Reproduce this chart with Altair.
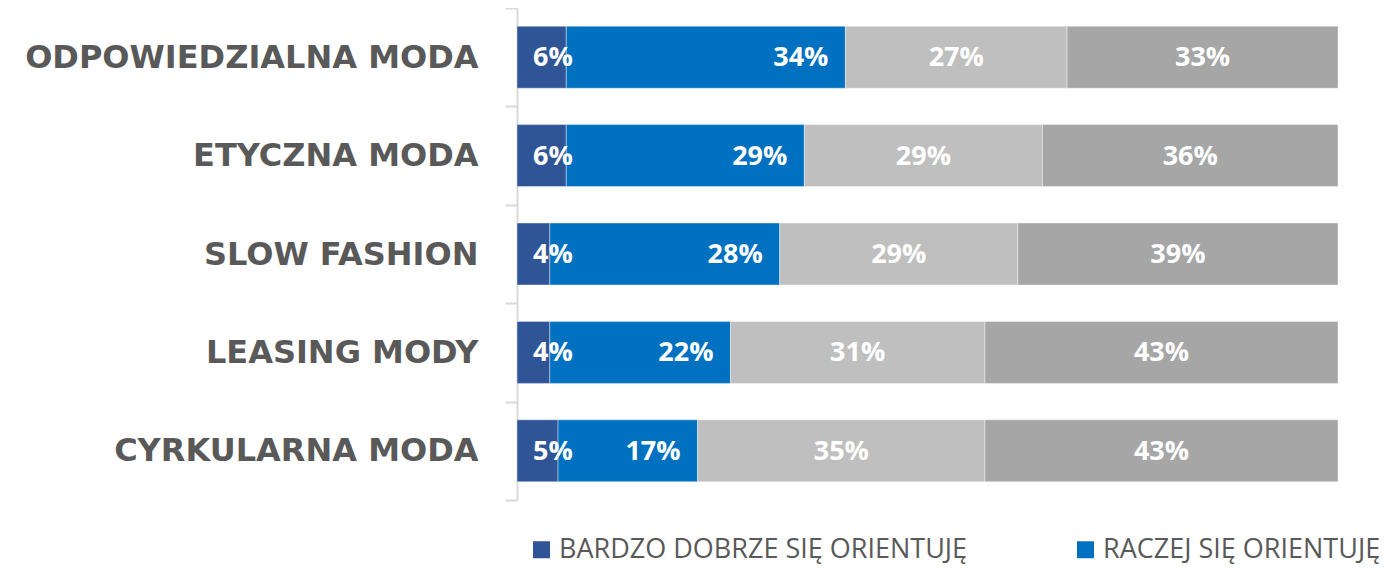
import altair as alt
import pandas as pd

categories = ["ODPOWIEDZIALNA MODA", "ETYCZNA MODA", "SLOW FASHION", "LEASING MODY", "CYRKULARNA MODA"]
series = ["BARDZO DOBRZE SIĘ ORIENTUJĘ", "RACZEJ SIĘ ORIENTUJĘ", "RACZEJ SIĘ NIE ORIENTUJĘ", "ZUPEŁNIE SIĘ NIE ORIENTUJĘ"]
colors = ["#2F5597", "#0070C0", "#BFBFBF", "#A6A6A6"]

very_well = [6, 6, 4, 4, 5]
rather_yes = [34, 29, 28, 22, 17]
rather_not = [27, 29, 29, 31, 35]
not_at_all = [33, 36, 39, 43, 43]

values = [very_well, rather_yes, rather_not, not_at_all]
rows = []
for i, s in enumerate(series):
    for c, v in zip(categories, values[i]):
        rows.append({"cat": c, "series": s, "ord": i, "v": v})
df = pd.DataFrame(rows)

base = alt.Chart(df).transform_stack(
    stack="v", groupby=["cat"], sort=[alt.SortField("ord", order="ascending")], as_=["x0", "x1"]
).transform_calculate(mid="(datum.x0 + datum.x1) / 2", label="datum.v + '%'")

xscale = alt.Scale(domain=[0, 100], nice=False, zero=True)
yscale = alt.Scale(domain=categories, paddingInner=0, paddingOuter=0)

y_axis = alt.Axis(
    title=None, labelFont="DejaVu Sans", labelFontSize=32, labelFontWeight="bold",
    labelColor="#595959", labelPadding=27, labelLimit=700,
    tickSize=12, tickWidth=2, tickColor="#D9D9D9", tickBand="extent",
    domainColor="#D9D9D9", domainWidth=2, grid=False,
)

bars = base.mark_bar(
    stroke="white", strokeWidth=0.8, strokeOpacity=0.5, height=alt.RelativeBandSize(0.63)
).encode(
    x=alt.X("x0:Q", scale=xscale, axis=None),
    x2="x1:Q",
    y=alt.Y("cat:N", sort=categories, scale=yscale, axis=y_axis),
    color=alt.Color(
        "series:N",
        scale=alt.Scale(domain=series, range=colors),
        sort=series,
        legend=alt.Legend(
            values=series[:2], title=None, orient="none", direction="horizontal",
            legendX=11, legendY=528, symbolType="square", symbolSize=289,
            symbolStrokeWidth=0, labelFont="Open Sans", labelFontSize=27,
            labelColor="#595959", labelOffset=4, columnPadding=104, padding=0,
            labelLimit=800,
        ),
    ),
)

text_style = dict(color="white", font="Open Sans", fontSize=27, fontWeight="bold", baseline="middle", dy=1)

t0 = base.transform_filter("datum.ord == 0").mark_text(align="left", dx=16, **text_style).encode(
    x=alt.X("x0:Q", scale=xscale), y=alt.Y("cat:N", sort=categories, scale=yscale), text="label:N"
)
t1 = base.transform_filter("datum.ord == 1").mark_text(align="right", dx=-17, **text_style).encode(
    x=alt.X("x1:Q", scale=xscale), y=alt.Y("cat:N", sort=categories, scale=yscale), text="label:N"
)
t2 = base.transform_filter("datum.ord >= 2").mark_text(align="center", **text_style).encode(
    x=alt.X("mid:Q", scale=xscale), y=alt.Y("cat:N", sort=categories, scale=yscale), text="label:N"
)

chart = alt.layer(bars, t0, t1, t2).properties(
    width=821, height=492,
    autosize=alt.AutoSizeParams(type="none"),
    padding={"left": 509, "top": 0, "right": 50, "bottom": 66},
    background="white",
).configure_view(stroke=None)

chart.save("out.html", embed_options={"renderer": "svg", "actions": False})
